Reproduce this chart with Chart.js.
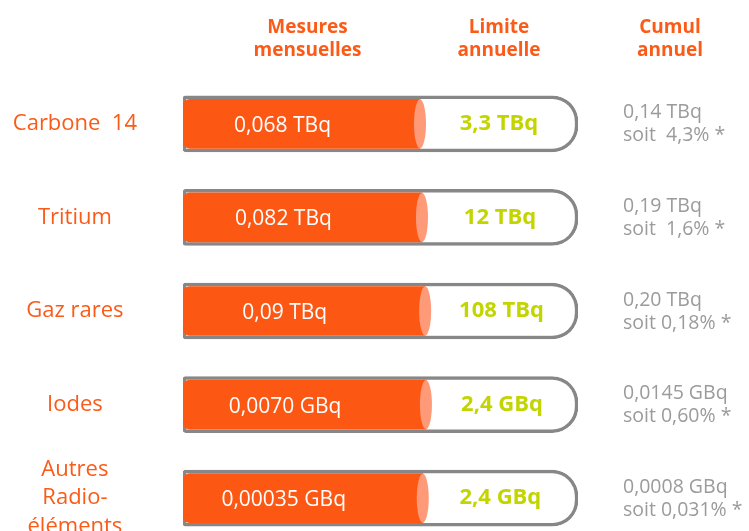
<!DOCTYPE html>
<html>
<head>
<meta charset="utf-8">
<script src="https://cdn.jsdelivr.net/npm/chart.js@4"></script>
<style>
  html, body { margin:0; padding:0; background:#fff; overflow:hidden; }
  #wrap { width:749px; height:560px; position:relative; }
</style>
</head>
<body>
<div id="wrap"><canvas id="c"></canvas></div>
<script>
// ---- data ----
const categories = ['Carbone  14', 'Tritium', 'Gaz rares', 'Iodes', ['Autres', 'Radio-', 'éléments']];
const mesures   = ['0,068 TBq', '0,082 TBq', '0,09 TBq', '0,0070 GBq', '0,00035 GBq'];
const limites   = ['3,3 TBq', '12 TBq', '108 TBq', '2,4 GBq', '2,4 GBq'];
const cumul     = ['0,14 TBq', '0,19 TBq', '0,20 TBq', '0,0145 GBq', '0,0008 GBq'];
const cumulPct  = ['soit  4,3% *', 'soit  1,6% *', 'soit 0,18% *', 'soit 0,60% *', 'soit 0,031% *'];
const fillShare = [0.60, 0.605, 0.613, 0.615, 0.607];   // orange share of each tube (as drawn)
const tubeFull  = [1, 1, 1, 1, 1];                       // full tube = annual limit
const headers   = [['Mesures', 'mensuelles'], ['Limite', 'annuelle'], ['Cumul', 'annuel']];

const ORANGE = '#fc5814';
const HEAD = '#fb5a17';
const GREEN = '#c2d500';
const GREY = '#9b9b9b';
const FONT = '"Open Sans", "Noto Sans", sans-serif';

const overlay = {
  id: 'overlay',
  afterDatasetsDraw(chart) {
    const ctx = chart.ctx;
    const xs = chart.scales.x;
    const meta = chart.getDatasetMeta(0);
    const area = chart.chartArea;
    ctx.save();
    meta.data.forEach((el, i) => {
      const h = el.height;
      // end cap of the orange cylinder
      ctx.fillStyle = '#fe9a77';
      ctx.beginPath();
      ctx.ellipse(el.x, el.y, 6, h / 2, 0, 0, Math.PI * 2);
      ctx.fill();
      // monthly measure
      ctx.fillStyle = '#ffffff';
      ctx.font = '21px ' + FONT;
      ctx.textAlign = 'center';
      ctx.textBaseline = 'middle';
      ctx.fillText(mesures[i], xs.getPixelForValue(fillShare[i] * 0.42), el.y + 2);
      // annual limit
      ctx.fillStyle = GREEN;
      ctx.font = 'bold 22px ' + FONT;
      ctx.fillText(limites[i], (el.x + xs.getPixelForValue(tubeFull[i])) / 2, el.y);
      // cumulative
      ctx.fillStyle = GREY;
      ctx.font = '19.5px ' + FONT;
      ctx.textAlign = 'left';
      ctx.fillText(cumul[i], area.right + 45, el.y - 11);
      ctx.fillText(cumulPct[i], area.right + 45, el.y + 12);
    });
    // column headers
    ctx.fillStyle = HEAD;
    ctx.font = 'bold 19px ' + FONT;
    ctx.textAlign = 'center';
    const hx = [xs.getPixelForValue(fillShare[0] * 0.5) + 6,
                (xs.getPixelForValue(fillShare[0]) + xs.getPixelForValue(tubeFull[0])) / 2,
                area.right + 92];
    headers.forEach((lines, k) => {
      lines.forEach((t, j) => ctx.fillText(t, hx[k], 28 + j * 23));
    });
    ctx.restore();
  }
};

new Chart(document.getElementById('c'), {
  type: 'bar',
  data: {
    labels: categories,
    datasets: [
      {
        data: fillShare,
        backgroundColor: ORANGE,
        borderWidth: 0,
        borderSkipped: false,
        borderRadius: { topLeft: 7, bottomLeft: 7, topRight: 0, bottomRight: 0 },
        barThickness: 49,
        grouped: false
      },
      {
        data: tubeFull,
        backgroundColor: '#ffffff',
        borderColor: '#878787',
        borderWidth: 3.5,
        borderSkipped: false,
        borderRadius: { topLeft: 3, bottomLeft: 3, topRight: 26, bottomRight: 26 },
        barThickness: 56,
        grouped: false
      }
    ]
  },
  options: {
    indexAxis: 'y',
    responsive: true,
    maintainAspectRatio: false,
    animation: false,
    layout: { padding: { left: 0, right: 171, top: 77, bottom: 15 } },
    plugins: { legend: { display: false }, tooltip: { enabled: false } },
    scales: {
      x: { display: false, min: 0, max: 1 },
      y: {
        grid: { display: false, drawTicks: false },
        border: { display: false },
        afterFit(s) { s.width = 183; s.paddingTop = 0; s.paddingBottom = 0; },
        ticks: {
          crossAlign: 'center',
          padding: 46,
          color: HEAD,
          font: { family: FONT, size: 22, lineHeight: 1.3 }
        }
      }
    }
  },
  plugins: [overlay]
});
</script>
</body>
</html>
